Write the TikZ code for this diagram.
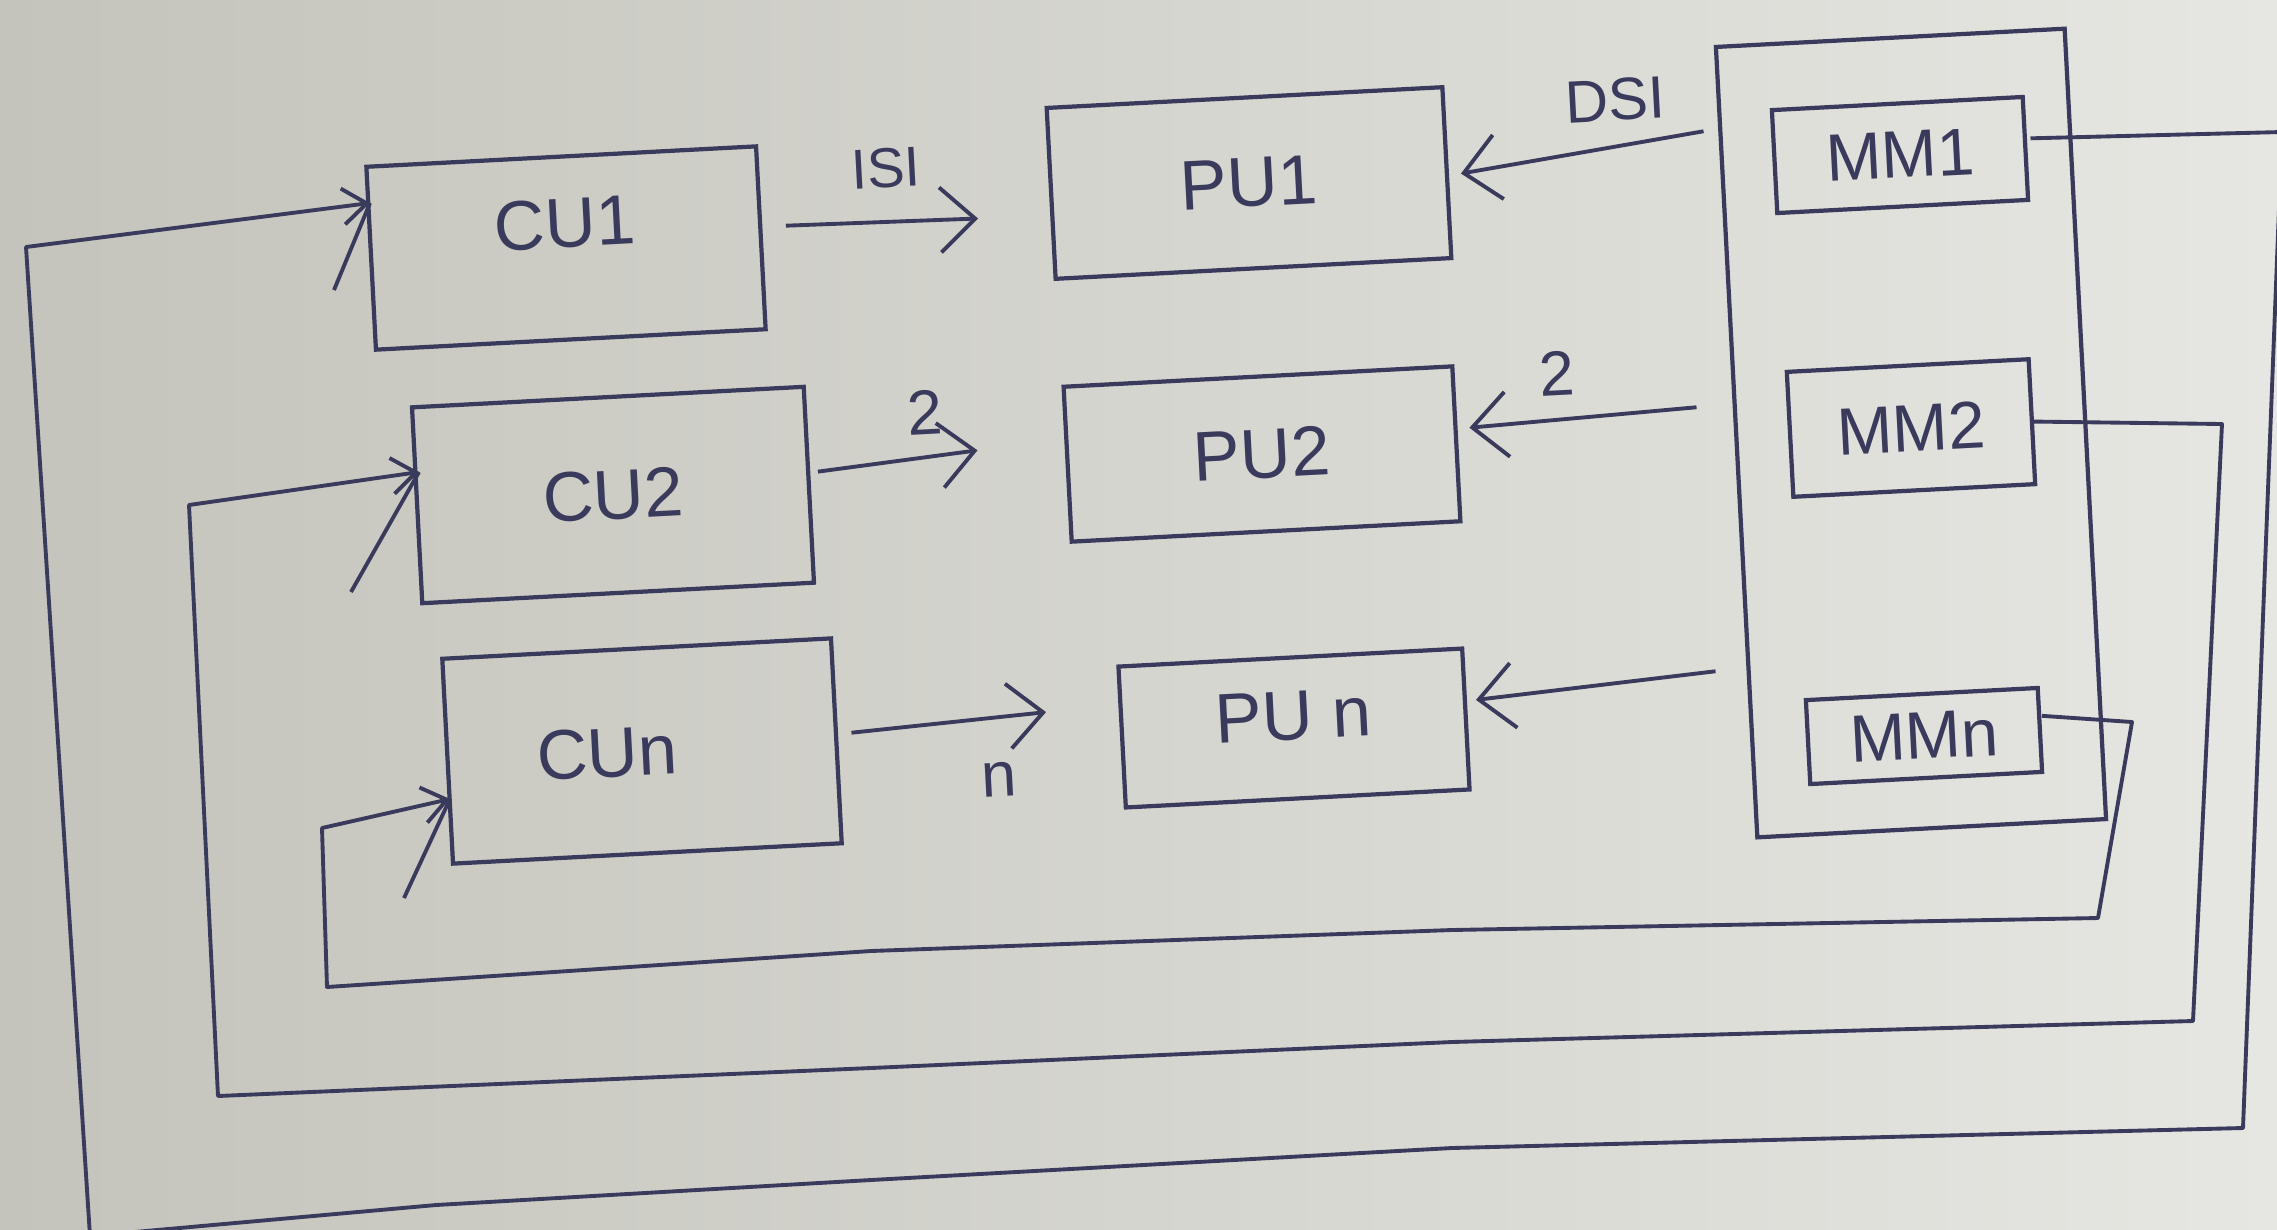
\documentclass[tikz,border=0pt]{standalone}
\usepackage{fontspec}
\setmainfont{Liberation Sans}
\usetikzlibrary{arrows.meta,calc}
\definecolor{ink}{RGB}{58,58,92}
\definecolor{paperL}{RGB}{196,196,188}
\definecolor{paperR}{RGB}{230,230,226}
\begin{document}
\begin{tikzpicture}[x=0.01cm,y=-0.01cm,
  box/.style={draw=ink, line width=1.2pt, rotate=3, inner sep=0pt, text=ink,
    font=\fontsize{20}{24}\selectfont},
  mbox/.style={box, font=\fontsize{19}{22}\selectfont},
  wire/.style={draw=ink, line width=1.1pt, line join=round},
  arr/.style={wire, -{Straight Barb[length=3.5mm,width=6.5mm]}},
  inarr/.style={wire, -{Straight Barb[length=2.4mm,width=3.6mm]}},
  lbl/.style={text=ink, inner sep=1pt, rotate=3, font=\fontsize{16}{19}\selectfont}]
\useasboundingbox (0,0) rectangle (2277,1229);
\clip (0,0) rectangle (2277,1229);
\shade[left color=paperL, right color=paperR] (0,0) rectangle (2277,1229);

% control units
\node[box, minimum width=3.9cm, minimum height=1.83cm] (CU1) at (566,248) {\raisebox{0.5cm}{CU1}};
\node[box, minimum width=3.92cm, minimum height=1.96cm] (CU2) at (613,495) {CU2};
\node[box, minimum width=3.89cm, minimum height=2.05cm] (CUn) at (642,751) {\hspace*{-0.7cm}CUn};
% processing units
\node[box, minimum width=3.96cm, minimum height=1.71cm] (PU1) at (1249,183) {PU1};
\node[box, minimum width=3.89cm, minimum height=1.55cm] (PU2) at (1262,454) {PU2};
\node[box, minimum width=3.44cm, minimum height=1.41cm] (PUn) at (1294,728) {\raisebox{0.25cm}{PU n}};
% memory
\node[box, minimum width=3.49cm, minimum height=7.91cm] (Mem) at (1911,433) {};
\node[mbox, minimum width=2.51cm, minimum height=1.03cm] (MM1) at (1900,155) {MM1};
\node[mbox, minimum width=2.42cm, minimum height=1.25cm] (MM2) at (1911,428) {MM2};
\node[mbox, minimum width=2.32cm, minimum height=0.84cm] (MMn) at (1924,736) {MMn};

% instruction streams
\draw[arr] ([shift={(23,-12)}]CU1.east) -- ([shift={(-71,25)}]PU1.west);
\draw[arr] ([shift={(7,-13)}]CU2.east) -- ([shift={(-88,-14)}]PU2.west);
\draw[arr] ([shift={(13,-8)}]CUn.east) -- ([shift={(-74,-25)}]PUn.west);
\node[lbl] (lIS) at (886,168) {ISI};
\node[lbl, font=\fontsize{18}{21}\selectfont] (l2a) at (925,412) {2};
\node[lbl, font=\fontsize{18}{21}\selectfont] (lna) at (999,780) {n};

% data streams
\draw[arr] ([shift={(-31,-311)}]Mem.west) -- ([shift={(12,1)}]PU1.east);
\draw[arr] ([shift={(-38,-35)}]Mem.west) -- ([shift={(11,-16)}]PU2.east);
\draw[arr] ([shift={(-19,229)}]Mem.west) -- ([shift={(8,-19)}]PUn.east);
\node[lbl, font=\fontsize{17}{20}\selectfont] (lDS) at (1615,100) {DSI};
\node[lbl, font=\fontsize{18}{21}\selectfont] (l2b) at (1557,373) {2};

% feedback loops
\coordinate (a1) at (2282,132);
\coordinate (a2) at (2243,1128);
\coordinate (a3) at (90,1236);
\coordinate (a4) at (26,247);
\coordinate (t1) at (370,203);
\draw[inarr] ([shift={(3,-10)}]MM1.east) -- (a1) -- (a2)
  -- (1452,1148) -- (871,1180) -- (436,1205) -- (a3) -- (a4) -- (t1);
\draw[wire] (t1) -- ++(-36,87);

\coordinate (b1) at (2222,424);
\coordinate (b2) at (2193,1021);
\coordinate (b3) at (218,1096);
\coordinate (b4) at (189,505);
\coordinate (t2) at (419,472);
\draw[inarr] (MM2.east) -- (b1) -- (b2) -- (1452,1042) -- (871,1068) -- (b3) -- (b4) -- (t2);
\draw[wire] (t2) -- ++(-68,120);

\coordinate (c1) at (2132,722);
\coordinate (c2) at (2098,918);
\coordinate (c3) at (327,987);
\coordinate (c4) at (322,828);
\coordinate (t3) at (450,799);
\draw[inarr] ([shift={(0,-14)}]MMn.east) -- (c1) -- (c2) -- (1452,930) -- (871,951) -- (c3) -- (c4) -- (t3);
\draw[wire] (t3) -- ++(-46,99);
\end{tikzpicture}
\end{document}
